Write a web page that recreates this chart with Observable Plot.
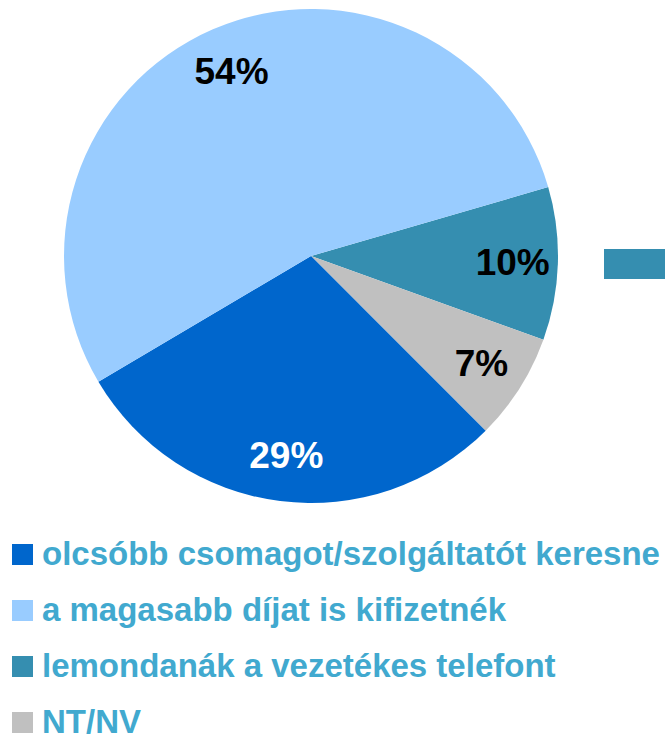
<!DOCTYPE html>
<html><head><meta charset="utf-8">
<script src="https://cdn.jsdelivr.net/npm/d3@7"></script>
<script src="https://cdn.jsdelivr.net/npm/@observablehq/plot@0.6"></script>
<style>
body{margin:0;background:#fff;width:665px;height:735px;overflow:hidden;position:relative;font-family:"Liberation Sans",Arial,sans-serif;}
#chart{position:absolute;left:0;top:0;}
#stub{position:absolute;left:604px;top:249px;width:61px;height:30px;background:#358eb0;}
.item{position:absolute;left:12px;height:30px;display:flex;align-items:center;white-space:nowrap;font-weight:bold;font-size:33px;color:#41a9cf;}
.sw{width:21px;height:21px;margin-right:9px;flex:none;}
</style></head>
<body>
<div id="chart"></div>
<div id="stub"></div>
<div id="legend"></div>
<script>
// Data
const categories = ["olcsóbb csomagot/szolgáltatót keresne", "a magasabb díjat is kifizetnék", "lemondanák a vezetékes telefont", "NT/NV"];
const values = [29, 54, 10, 7];
const colors = ["#0066cc", "#99ccff", "#358eb0", "#c0c0c0"];
const labelColors = ["#ffffff", "#000000", "#000000", "#000000"];
const pieOrder = [2, 3, 0, 1]; // clockwise order of slices
const startDeg = 73.8;

const rows = categories.map((c, i) => ({category: c, value: values[i], color: colors[i], labelColor: labelColors[i]}));
const ordered = pieOrder.map(i => rows[i]);
const start = startDeg * Math.PI / 180;
const arcs = d3.pie().value(d => d.value).sort(null).startAngle(start).endAngle(start + 2 * Math.PI)(ordered);
const labelR = 0.815;
const labels = arcs.map(a => {
  const m = (a.startAngle + a.endAngle) / 2;
  return {x: labelR * Math.sin(m), y: labelR * Math.cos(m), text: a.data.value + "%", fill: a.data.labelColor};
});

function pieMark(index, scales) {
  const cx = scales.x(0), cy = scales.y(0), r = scales.x(1) - scales.x(0);
  const g = d3.create("svg:g").attr("transform", `translate(${cx},${cy})`);
  const arc = d3.arc().innerRadius(0).outerRadius(r);
  g.selectAll("path").data(arcs).join("path").attr("d", arc).attr("fill", d => d.data.color);
  return g.node();
}

const R = 247, CX = 311, CY = 256;
const chart = Plot.plot({
  width: 665,
  height: 510,
  margin: 0,
  x: {domain: [-1, 1], range: [CX - R, CX + R], axis: null},
  y: {domain: [-1, 1], range: [CY + R, CY - R], axis: null},
  style: {background: "transparent", overflow: "visible"},
  marks: [
    pieMark,
    Plot.text(labels, {x: "x", y: "y", text: "text", fill: "fill", fontSize: 37, fontWeight: "bold", fontFamily: "Liberation Sans, Arial, sans-serif"})
  ]
});
document.getElementById("chart").appendChild(chart);

const legend = document.getElementById("legend");
rows.forEach((d, i) => {
  const it = document.createElement("div");
  it.className = "item";
  it.style.top = (554 + 56 * i - 15) + "px";
  const sw = document.createElement("div");
  sw.className = "sw";
  sw.style.background = d.color;
  const t = document.createElement("span");
  t.textContent = d.category;
  it.appendChild(sw); it.appendChild(t);
  legend.appendChild(it);
});
</script>
</body></html>
